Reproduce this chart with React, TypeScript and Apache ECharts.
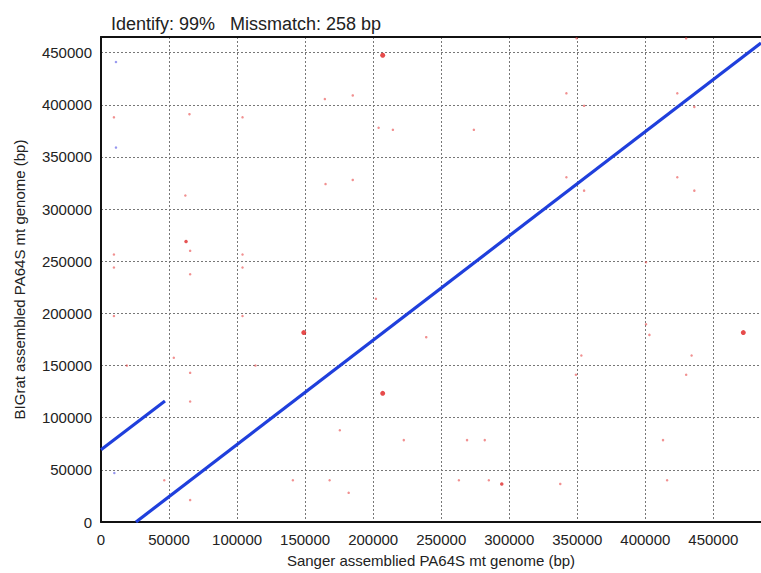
import React, { useEffect, useRef } from "react";
import * as echarts from "echarts";

const titleText = "Identify: 99%\u00a0\u00a0\u00a0Missmatch: 258 bp";
const xName = "Sanger assemblied PA64S mt genome (bp)";
const yName = "BIGrat assembled PA64S mt genome (bp)";

const mainAlignment: [number, number][] = [
  [25700, 0],
  [485000, 459300],
];
const shiftedAlignment: [number, number][] = [
  [0, 69200],
  [47000, 116000],
];

const smallRedHits: [number, number][] = [
  [9500, 388000], [65000, 391000], [104000, 388000], [164500, 405500], [185000, 409000],
  [349500, 463700], [430000, 463700], [342000, 411000], [355000, 399000], [423500, 411000],
  [436000, 398000], [165000, 324000], [185000, 328000], [62000, 313000], [65500, 260000],
  [9500, 256500], [9500, 244000], [104000, 256500], [104000, 244000], [65500, 237500],
  [202000, 214000], [9500, 197500], [104000, 197500], [53500, 157500], [19000, 150000],
  [113500, 150000], [65500, 143000], [204000, 378000], [214500, 376000], [274000, 376000],
  [342000, 330500], [355000, 317700], [423500, 330500], [436000, 317700], [400500, 249000],
  [400500, 189600], [403000, 179400], [239000, 177200], [353000, 159600], [434000, 159600],
  [349000, 141200], [430000, 141200], [175500, 88000], [222500, 78500], [269000, 78500],
  [282000, 78500], [413000, 78500], [168000, 40000], [182000, 28000], [263000, 40000],
  [285000, 40000], [337500, 36500], [416000, 40000], [46500, 40000], [65500, 115500],
  [65500, 21000], [141000, 40000],
];
const strongRedHits: [number, number][] = [
  [62500, 269000], [294500, 36500],
];
const bigRedHits: [number, number][] = [
  [207000, 447500], [149000, 181600], [472000, 181600], [207000, 123400],
];
const blueHits: [number, number][] = [
  [11000, 441000], [11000, 359000], [9800, 47000],
];

const xTicks = 50000;
const yTicks = 50000;
const xMax = 485000;
const yMax = 465000;

export default function App() {
  const ref = useRef<HTMLDivElement>(null);
  useEffect(() => {
    if (!ref.current) return;
    const chart = echarts.init(ref.current, undefined, { renderer: "svg" });
    const font = "'Liberation Sans', Arial, Helvetica, sans-serif";
    const lineColor = "#1f3fdc";
    const plain = (v: number) => String(v);
    chart.setOption({
      animation: false,
      textStyle: { fontFamily: font },
      title: {
        text: titleText,
        left: 106,
        top: 10,
        textStyle: { fontFamily: font, fontSize: 18, fontWeight: "normal", color: "#222" },
      },
      grid: { left: 101, right: 0, top: 37, bottom: 47 },
      xAxis: [
        {
          type: "value",
          min: 0,
          max: xMax,
          interval: xTicks,
          name: xName,
          nameLocation: "middle",
          nameGap: 31,
          nameTextStyle: { fontSize: 15, color: "#222", fontFamily: font },
          axisLine: { show: true, onZero: false, lineStyle: { color: "#111", width: 2 } },
          axisTick: { show: false },
          axisLabel: { fontSize: 15, color: "#222", margin: 10, showMaxLabel: false, fontFamily: font, formatter: plain },
          splitLine: { show: true, lineStyle: { color: "#777", type: [2, 2], width: 1 } },
        },
        {
          type: "value",
          position: "top",
          min: 0,
          max: xMax,
          axisLine: { show: true, onZero: false, lineStyle: { color: "#111", width: 2 } },
          axisTick: { show: false },
          axisLabel: { show: false },
          splitLine: { show: false },
        },
      ],
      yAxis: {
        type: "value",
        min: 0,
        max: yMax,
        interval: yTicks,
        name: yName,
        nameLocation: "middle",
        nameGap: 74,
        nameTextStyle: { fontSize: 15, color: "#222", fontFamily: font },
        axisLine: { show: true, onZero: false, lineStyle: { color: "#111", width: 2 } },
        axisTick: { show: false },
        axisLabel: { fontSize: 15, color: "#222", margin: 9, showMaxLabel: false, fontFamily: font, formatter: plain },
        splitLine: { show: true, lineStyle: { color: "#777", type: [2, 2], width: 1 } },
      },
      series: [
        {
          type: "line",
          data: mainAlignment,
          symbol: "none",
          lineStyle: { color: lineColor, width: 3.2 },
        },
        {
          type: "line",
          data: shiftedAlignment,
          symbol: "none",
          lineStyle: { color: lineColor, width: 3.2 },
        },
        {
          type: "scatter",
          data: smallRedHits,
          symbol: "circle",
          symbolSize: 2.5,
          itemStyle: { color: "rgba(232,70,70,0.75)" },
        },
        {
          type: "scatter",
          data: strongRedHits,
          symbol: "circle",
          symbolSize: 3.5,
          itemStyle: { color: "#e02a2a" },
        },
        {
          type: "scatter",
          data: bigRedHits,
          symbol: "circle",
          symbolSize: 5,
          itemStyle: { color: "#e01e1e" },
        },
        {
          type: "scatter",
          data: blueHits,
          symbol: "circle",
          symbolSize: 2.5,
          itemStyle: { color: "rgba(90,90,230,0.8)" },
        },
      ],
    });
    return () => chart.dispose();
  }, []);
  return (
    <div
      ref={ref}
      style={{ position: "fixed", left: 0, top: 0, width: 761, height: 573, background: "#fff" }}
    />
  );
}
